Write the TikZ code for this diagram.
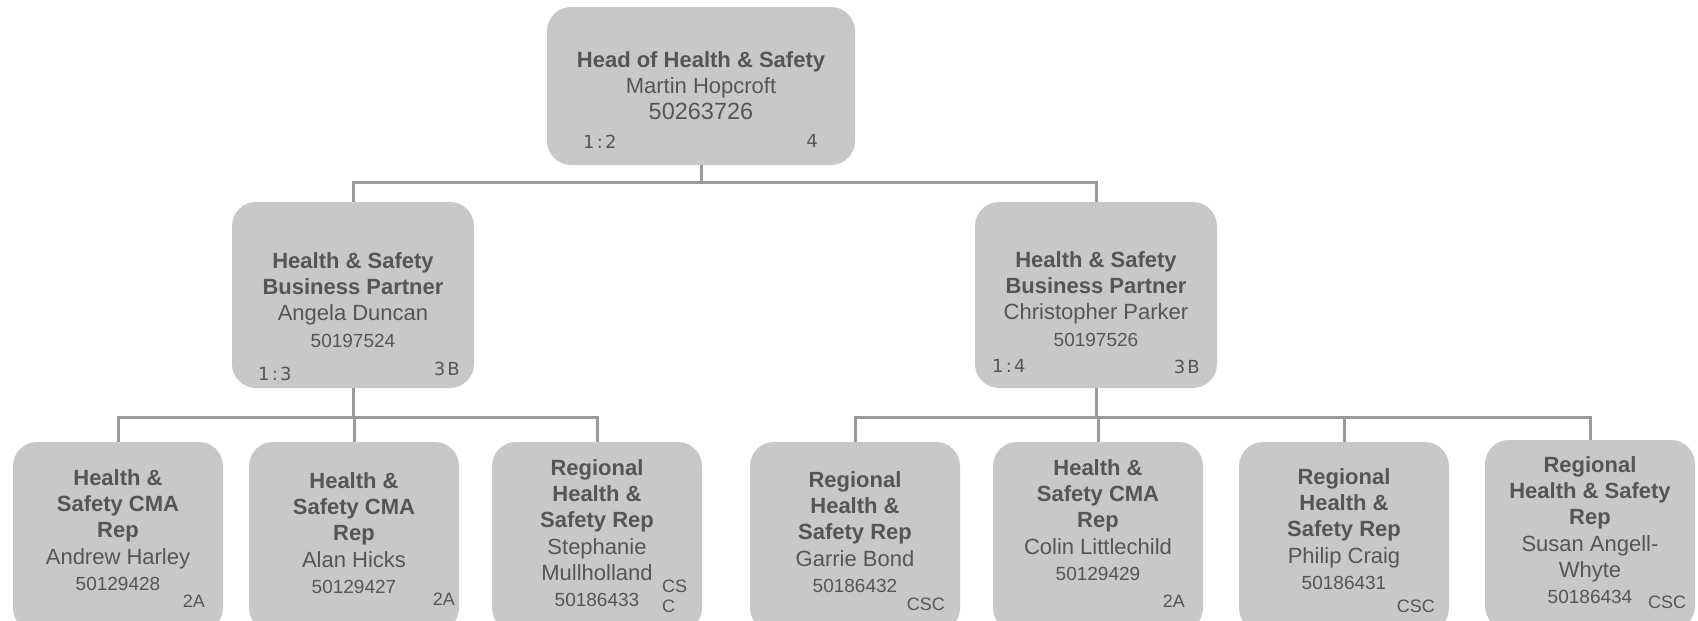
\documentclass[tikz,border=0pt]{standalone}
\usepackage{fontspec}
\setmainfont{Liberation Sans}
\newfontfamily\codefont[LetterSpace=12]{DejaVu Sans}
\usepackage{xcolor}
\usetikzlibrary{positioning}

\definecolor{boxgrey}{HTML}{C8C8C8}
\definecolor{inkgrey}{HTML}{555555}
\definecolor{linegrey}{HTML}{9A9A9A}

\newcommand{\idno}[1]{{\fontsize{19}{26.3}\selectfont #1}}
\newcommand{\idtop}[1]{{\fontsize{23.5}{26.3}\selectfont #1}}

\tikzset{
  unit/.style={fill=boxgrey, rounded corners=24pt, inner sep=0pt},
  headbox/.style={unit, minimum width=308pt, minimum height=158pt},
  partnerbox/.style={unit, minimum width=242pt, minimum height=186pt},
  repbox/.style={unit, minimum width=210pt, minimum height=190pt},
  roletext/.style={text=inkgrey, align=center, inner sep=0pt, anchor=north,
    font=\fontsize{22}{26.3}\selectfont},
  spanlbl/.style={text=inkgrey, inner sep=0pt, font=\codefont\fontsize{18}{20}\selectfont},
  gradelbl/.style={text=inkgrey, inner sep=0pt, font=\fontsize{18}{20}\selectfont},
  link/.style={draw=linegrey, line width=3pt}
}

\begin{document}
\begin{tikzpicture}[x=1pt, y=-1pt]
  \useasboundingbox (0,0) rectangle (1698,621);
  \clip (0,0) rectangle (1698,621);

  % boxes
  \node[headbox] (hd) at (701,86) {};
  \node[partnerbox] (bpl) at (353,295) {};
  \node[partnerbox] (bpr) at (1096,295) {};
  \node[repbox] (r1) at (118,537) {};
  \node[repbox] (r2) at (354,537) {};
  \node[repbox] (r3) at (597,537) {};
  \node[repbox] (r4) at (855,537) {};
  \node[repbox] (r5) at (1098,537) {};
  \node[repbox] (r6) at (1344,537) {};
  \node[repbox] (r7) at (1590,535) {};

  % connectors
  \coordinate (busa) at (701,182);
  \coordinate (busb) at (353,417);
  \coordinate (busc) at (1096,417);
  \draw[link] (hd.south) -- (busa);
  \draw[link] (bpl.north) |- (busa) -| (bpr.north);
  \draw[link] (bpl.south) -- (busb);
  \draw[link] (r1.north) |- (busb) -| (r3.north);
  \draw[link] (r2.north) -- (r2.north |- busb);
  \draw[link] (bpr.south) -- (busc);
  \draw[link] (r4.north) |- (busc) -| (r7.north);
  \draw[link] (r5.north) -- (r5.north |- busc);
  \draw[link] (r6.north) -- (r6.north |- busc);

  % texts
  \node[roletext] (hdt) at (701,51)
    {\textbf{Head of Health \& Safety}\\ Martin Hopcroft\\ \idtop{50263726}};
  \node[spanlbl, anchor=base west] (hdspan) at (583,148) {1:2};
  \node[spanlbl, anchor=base east] (hdgrade) at (818,147) {4};

  \node[roletext] (bplt) at (353,252)
    {\textbf{Health \& Safety}\\ \textbf{Business Partner}\\ Angela Duncan\\ \idno{50197524}};
  \node[spanlbl, anchor=base west] (bplspan) at (258,380) {1:3};
  \node[spanlbl, anchor=base east] (bplgrade) at (460,375) {3B};

  \node[roletext] (bprt) at (1096,251)
    {\textbf{Health \& Safety}\\ \textbf{Business Partner}\\ Christopher Parker\\ \idno{50197526}};
  \node[spanlbl, anchor=base west] (bprspan) at (992,372) {1:4};
  \node[spanlbl, anchor=base east] (bprgrade) at (1200,373) {3B};

  \node[roletext] (r1t) at (118,469)
    {\textbf{Health \&}\\ \textbf{Safety CMA}\\ \textbf{Rep}\\ Andrew Harley\\ \idno{50129428}};
  \node[gradelbl, anchor=base east] (r1grade) at (205,607) {2A};

  \node[roletext] (r2t) at (354,472)
    {\textbf{Health \&}\\ \textbf{Safety CMA}\\ \textbf{Rep}\\ Alan Hicks\\ \idno{50129427}};
  \node[gradelbl, anchor=base east] (r2grade) at (455,605) {2A};

  \node[roletext] (r3t) at (597,459)
    {\textbf{Regional}\\ \textbf{Health \&}\\ \textbf{Safety Rep}\\ Stephanie\\ Mullholland\\ \idno{50186433}};
  \node[gradelbl, align=left, anchor=north west] (r3grade) at (662,580) {CS\\C};

  \node[roletext] (r4t) at (855,471)
    {\textbf{Regional}\\ \textbf{Health \&}\\ \textbf{Safety Rep}\\ Garrie Bond\\ \idno{50186432}};
  \node[gradelbl, anchor=base east] (r4grade) at (945,610) {CSC};

  \node[roletext] (r5t) at (1098,459)
    {\textbf{Health \&}\\ \textbf{Safety CMA}\\ \textbf{Rep}\\ Colin Littlechild\\ \idno{50129429}};
  \node[gradelbl, anchor=base east] (r5grade) at (1185,607) {2A};

  \node[roletext] (r6t) at (1344,468)
    {\textbf{Regional}\\ \textbf{Health \&}\\ \textbf{Safety Rep}\\ Philip Craig\\ \idno{50186431}};
  \node[gradelbl, anchor=base east] (r6grade) at (1435,612) {CSC};

  \node[roletext] (r7t) at (1590,456)
    {\textbf{Regional}\\ \textbf{Health \& Safety}\\ \textbf{Rep}\\ Susan Angell-\\ Whyte\\ \idno{50186434}};
  \node[gradelbl, anchor=base west] (r7grade) at (1648,608) {CSC};
\end{tikzpicture}
\end{document}
